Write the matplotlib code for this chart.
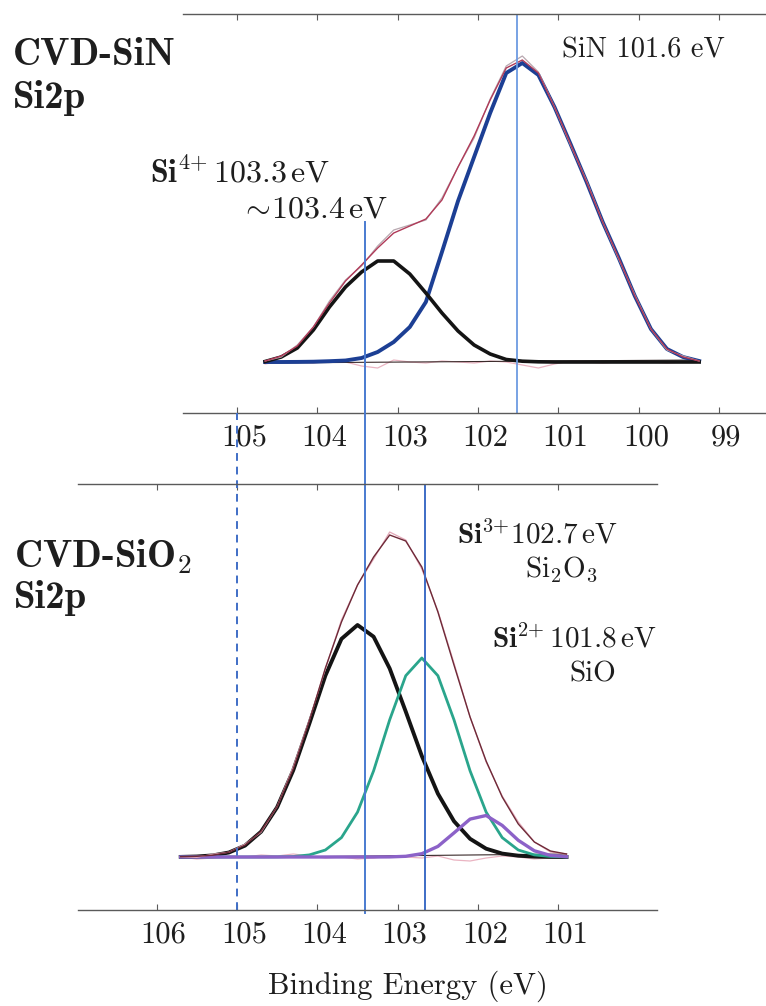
import matplotlib
matplotlib.use("Agg")
import matplotlib.pyplot as plt
from matplotlib.transforms import ScaledTranslation

plt.rcParams['mathtext.fontset'] = 'cm'
plt.rcParams['font.family'] = 'cmr10'
plt.rcParams['axes.formatter.use_mathtext'] = True

# ---- CVD-SiN, Si2p (binding energy in eV, intensity in a.u.)
top_energy = [104.65, 104.45, 104.25, 104.05, 103.85, 103.65, 103.45, 103.25, 103.05, 102.85,
              102.65, 102.45, 102.25, 102.05, 101.85, 101.65, 101.45, 101.25, 101.05, 100.85,
              100.65, 100.45, 100.25, 100.05, 99.85, 99.65, 99.45, 99.25]
top_si4 = [0.5, 5, 14, 32, 55, 75, 90, 101, 101, 88, 69, 49, 31, 17, 8, 2.5, 0.8, 0.2,
           0, 0, 0, 0, 0, 0, 0, 0, 0, 0]
top_sin = [0, 0, 0.1, 0.3, 0.8, 1.5, 4, 10, 20, 35, 60, 110, 161, 205, 249, 289, 299, 287,
           255, 218, 180, 140, 104, 66, 33, 13, 5, 1]
top_env = [1, 6, 16, 35, 59, 81, 97, 114, 129, 136, 143, 162, 195, 226, 262, 294, 302, 289,
           255, 218, 180, 140, 104, 66, 33, 13, 5, 1]
top_raw = [1, 5, 17, 35, 61, 82, 96, 116, 132, 137, 142, 164, 195, 224, 263, 296, 306, 290,
           255, 217, 181, 140, 103, 67, 33, 12, 6, 1]
top_resid = [-2, 1, 0, -1, 1, 0, -4, -6, 2, 0, -1, 1, 0, -1, 1, 0, -3, -6, -2, 1, 0, -1,
             0, 1, 0, -1, 0, 1]
top_bg_energy = [104.65, 99.25]
top_bg = [-1, 2]
top_ticks = [105, 104, 103, 102, 101, 100, 99]

# ---- CVD-SiO2, Si2p
bot_energy = [105.7, 105.5, 105.3, 105.1, 104.9, 104.7, 104.5, 104.3, 104.1, 103.9, 103.7,
              103.5, 103.3, 103.1, 102.9, 102.7, 102.5, 102.3, 102.1, 101.9, 101.7, 101.5,
              101.3, 101.1, 100.9]
bot_si4 = [0.1, 0.5, 1.6, 4.5, 11.4, 25.3, 49.8, 86.7, 133.3, 181.4, 218.1, 232, 220.3,
           188.5, 145.4, 101.0, 63.3, 35.8, 18.2, 8.3, 3.4, 1.3, 0.4, 0.1, 0]
bot_si3 = [0, 0, 0, 0, 0, 0, 0.1, 0.5, 2.1, 7.0, 19.4, 44.9, 86.2, 137.2, 181.3, 199,
           181.3, 137.2, 86.2, 44.9, 19.4, 7.0, 2.1, 0.5, 0.1]
bot_si2 = [0, 0, 0, 0, 0, 0, 0, 0, 0, 0, 0, 0, 0, 0.1, 0.7, 3.3, 10.6, 24.1, 37.9, 41.5,
           31.6, 16.7, 6.2, 1.6, 0.3]
bot_env = [0.3, 0.7, 1.8, 4.8, 11.8, 25.8, 50.5, 88, 136, 189, 235, 272, 300, 322, 316,
           290, 245, 192, 140, 96, 60, 33, 15, 6, 3]
bot_raw = [0.3, -0.3, 2.8, 4.8, 12.8, 24.8, 50.5, 90, 137, 188, 237, 272, 298, 325, 317,
           288, 246, 194, 140, 95, 61, 35, 15, 5, 3]
bot_resid = [0, -2, -1, 1, 0, 2, 1, 3, 1, -1, 0, -2, -1, 1, 0, -1, 1, -3, -4, -1, 1, 0,
             -2, -1, 1]
bot_bg_energy = [105.7, 100.9]
bot_bg = [-1, 3]
bot_ticks = [106, 105, 104, 103, 102, 101]

# peak position markers (eV)
mark_si4 = 103.41
mark_sin = 101.51
mark_si3 = 102.66
mark_ref = 105.0

W, H = 766, 1006
fig = plt.figure(figsize=(W / 100, H / 100), dpi=100)


def fx(px):
    return px / W


def fy(py):
    return 1 - py / H


ax1 = fig.add_axes([fx(183), fy(413), 583 / W, 399 / H])
ax2 = fig.add_axes([fx(78), fy(910), 579 / W, 426 / H])
ax1.set_xlim(105.672, 98.418)
ax1.set_ylim(-51, 348)
ax2.set_xlim(106.978, 99.774)
ax2.set_ylim(-53, 373)

for ax, ticks in ((ax1, top_ticks), (ax2, bot_ticks)):
    ax.patch.set_alpha(0)
    for s in ('left', 'right'):
        ax.spines[s].set_visible(False)
    for s in ('top', 'bottom'):
        ax.spines[s].set_color('#5a5a5a')
        ax.spines[s].set_linewidth(1.0)
    ax.set_yticks([])
    ax.set_xticks(ticks)
    ax.set_xticklabels([str(t) for t in ticks])
    ax.tick_params(axis='x', direction='in', top=True, bottom=True, length=4, width=0.8,
                   color='#5a5a5a', labelsize=22, pad=8, labelcolor='#1e1e1e')
    # labels sit a little to the right of their ticks in the original
    shift = ScaledTranslation(7 / 100, 0, fig.dpi_scale_trans)
    for lab in ax.get_xticklabels():
        lab.set_transform(lab.get_transform() + shift)

# top panel curves
ax1.plot(top_energy, top_resid, color='#eab4c2', lw=0.9)
ax1.plot(top_bg_energy, top_bg, color='#3a2a2a', lw=0.8)
ax1.plot(top_energy, top_sin, color='#1c3f94', lw=2.8, solid_joinstyle='round')
ax1.plot(top_energy, top_si4, color='#141414', lw=2.6, solid_joinstyle='round')
ax1.plot(top_energy, top_raw, color='#b8a8b0', lw=0.9)
ax1.plot(top_energy, top_env, color='#b03a58', lw=1.0)
ax1.axvline(mark_sin, color='#6d9be2', lw=1.3)

# bottom panel curves
ax2.plot(bot_energy, bot_resid, color='#eab4c2', lw=0.9)
ax2.plot(bot_bg_energy, bot_bg, color='#3a2a2a', lw=0.8)
ax2.plot(bot_energy, bot_si4, color='#141414', lw=2.8, solid_joinstyle='round')
ax2.plot(bot_energy, bot_si3, color='#2aa58c', lw=2.0, solid_joinstyle='round')
ax2.plot(bot_energy, bot_si2, color='#8c62c8', lw=2.4, solid_joinstyle='round')
ax2.plot(bot_energy, bot_raw, color='#e3a8b8', lw=0.9)
ax2.plot(bot_energy, bot_env, color='#6e2a38', lw=1.0)
ax2.axvline(mark_si3, color='#3d6dc6', lw=1.4)

# lines running across both panels
xt = ax2.get_xaxis_transform()
ax2.plot([mark_si4, mark_si4], [-0.006, (910 - 222) / 426], transform=xt, clip_on=False,
         color='#4a7bd0', lw=1.4)
ax2.plot([mark_ref, mark_ref], [0, (910 - 413) / 426], transform=xt, clip_on=False,
         color='#3f6ec6', lw=1.4, ls=(0, (4, 3)))

# labels
ink = '#1e1e1e'
fig.text(fx(13), fy(65), 'CVD-SiN', family='cmb10', fontsize=28, color=ink, va='baseline')
fig.text(fx(13), fy(108), 'Si2p', family='cmb10', fontsize=28, color=ink, va='baseline')
fig.text(fx(14), fy(567), r'CVD-SiO$_2$', family='cmb10', fontsize=28, color=ink,
         va='baseline')
fig.text(fx(14), fy(608), 'Si2p', family='cmb10', fontsize=28, color=ink, va='baseline')

fig.text(fx(150), fy(182), r'$\mathbf{Si}^{4{+}}\,\mathrm{103.3\,eV}$', fontsize=23,
         color=ink, va='baseline')
fig.text(fx(240), fy(218), r'$\sim\!\mathrm{103.4\,eV}$', fontsize=23, color=ink,
         va='baseline')
fig.text(fx(562), fy(57), 'SiN 101.6 eV', fontsize=20.5, color=ink, va='baseline')
fig.text(fx(457), fy(543), r'$\mathbf{Si}^{3{+}}\mathrm{102.7\,eV}$', fontsize=21, color=ink,
         va='baseline')
fig.text(fx(525), fy(577), r'$\mathrm{Si_2O_3}$', fontsize=21, color=ink, va='baseline')
fig.text(fx(492), fy(648), r'$\mathbf{Si}^{2{+}}\,\mathrm{101.8\,eV}$', fontsize=21,
         color=ink, va='baseline')
fig.text(fx(569), fy(682), 'SiO', fontsize=21, color=ink, va='baseline')

fig.text(fx(408), fy(994), 'Binding Energy (eV)', fontsize=22, color=ink, ha='center',
         va='baseline')

fig.savefig('out.png', dpi=100, facecolor='white')
